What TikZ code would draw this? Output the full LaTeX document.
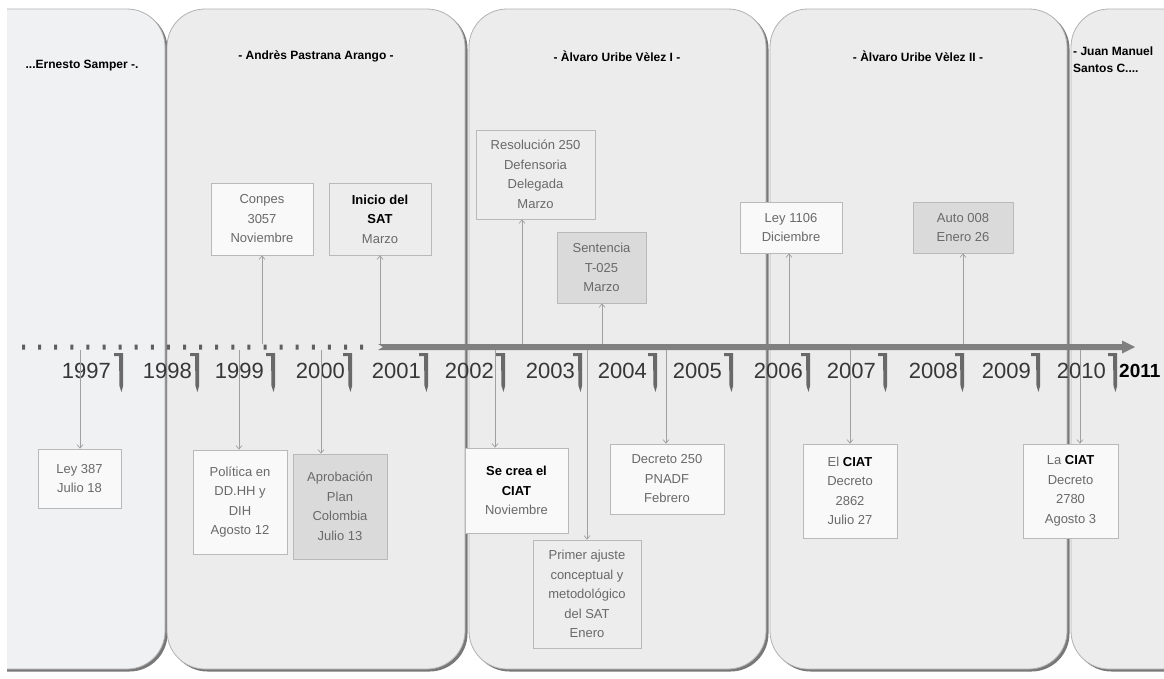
\documentclass[tikz,border=0pt]{standalone}
\usepackage{fontspec}
\setmainfont{Liberation Sans}
\usetikzlibrary{arrows.meta}
\definecolor{panelfill}{RGB}{236,236,237}
\definecolor{panelfillA}{RGB}{240,241,243}
\definecolor{shadowc}{RGB}{120,120,120}
\definecolor{panelline}{RGB}{178,178,178}
\definecolor{boxw}{RGB}{249,249,249}
\definecolor{boxl}{RGB}{237,237,237}
\definecolor{boxg}{RGB}{218,218,218}
\definecolor{boxline}{RGB}{185,185,185}
\definecolor{txtg}{RGB}{105,105,105}
\definecolor{axisc}{RGB}{128,128,128}
\definecolor{dotc}{RGB}{95,95,95}
\definecolor{yearc}{RGB}{55,55,55}
\definecolor{tickc}{RGB}{105,105,105}
\definecolor{connc}{RGB}{160,160,160}
\tikzset{
  panel/.style={draw=panelline, line width=0.8pt, rounded corners=38pt},
  pshadow/.style={fill=shadowc, rounded corners=38pt},
  hdr/.style={font=\bfseries\fontsize{12}{17}\selectfont, text=black, inner sep=0pt},
  evbox/.style={draw=boxline, line width=0.8pt, align=center, inner sep=0pt,
    font=\fontsize{13}{19.5}\selectfont, text=txtg},
  wbox/.style={evbox, fill=boxw},
  lbox/.style={evbox, fill=boxl},
  gbox/.style={evbox, fill=boxg},
  conn/.style={draw=connc, line width=0.7pt, -{Straight Barb[length=3.5pt,width=6pt]}},
  yr/.style={font=\fontsize{22}{22}\selectfont, text=yearc, anchor=east, inner sep=0pt},
}
\newcommand{\bk}[1]{{\color{black}\bfseries #1}}
\begin{document}
\begin{tikzpicture}[x=1pt,y=-1pt]
\useasboundingbox (0,0) rectangle (1164,678);
\clip (0,0) rectangle (1164,678);
\fill[white] (0,0) rectangle (1164,678);
% panels
\begin{scope}
  \clip (7,0) rectangle (1164,678);
  \fill[pshadow] (-57.5,11) rectangle (167.5,671.5);
  \filldraw[panel, fill=panelfillA] (-60,9) rectangle (165,669);
  \foreach \l/\r in {167/465,469/766,770/1067,1071/1320} {
    \fill[pshadow] ({\l+2.5},11) rectangle ({\r+2.5},671.5);
    \filldraw[panel, fill=panelfill] (\l,9) rectangle (\r,669);
  }
\end{scope}
% headers
\node[hdr] (h1) at (82,66) {...Ernesto Samper -.};
\node[hdr] (h2) at (316,56) {- Andrès Pastrana Arango -};
\node[hdr] (h3) at (617,56) {- Àlvaro Uribe Vèlez I -};
\node[hdr] (h4) at (918,56) {- Àlvaro Uribe Vèlez II -};
\node[hdr, align=left, anchor=north west] (h5) at (1073,47) {- Juan Manuel\\Santos C....};
% axis
\fill[dotc] \foreach \k in {0,...,21} {({22+16.1*\k},344.5) rectangle +(3,5)};
\fill[axisc] (378,344) -- (1122,344) -- (1122,340.5) -- (1135,347) -- (1122,353.5)
  -- (1122,350) -- (378,350) -- (383,347) -- cycle;
% ticks
\foreach \t in {123,199,275,352,428,505,582,657,733,810,887,964,1040,1117}
  \fill[tickc] ({\t-9},353) -- (\t,353) -- (\t,386) -- ({\t-1.5},392) -- ({\t-3.5},386)
    -- ({\t-4},356) -- ({\t-9},356) -- cycle;
% year labels
\foreach \xx/\yy in {111/1997,192/1998,264/1999,345/2000,421/2001,494/2002,575/2003,
  647/2004,722/2005,803/2006,876/2007,958/2008,1031/2009,1106/2010}
  \node[yr] (y\yy) at (\xx,371) {\yy};
\node[yr, font=\bfseries\fontsize{19}{19}\selectfont, text=black, anchor=west] (y2011) at (1119,371) {2011};
% boxes above
\node[wbox, minimum width=102pt, minimum height=72pt] (conpes) at (262,219) {Conpes\\3057\\Noviembre};
\node[lbox, minimum width=102pt, minimum height=72pt] (inicio) at (380,219) {\bk{Inicio del}\\\bk{SAT}\\Marzo};
\node[lbox, minimum width=119pt, minimum height=89pt] (resol) at (535.5,174.5) {Resolución 250\\Defensoria\\Delegada\\Marzo};
\node[gbox, minimum width=89pt, minimum height=71pt] (sent) at (601.5,267.5) {Sentencia\\T-025\\Marzo};
\node[wbox, minimum width=102pt, minimum height=51pt] (ley1106) at (791,227.5) {Ley 1106\\Diciembre};
\node[gbox, minimum width=100pt, minimum height=51pt] (auto) at (963,227.5) {Auto 008\\Enero 26};
% boxes below
\node[wbox, minimum width=83pt, minimum height=59pt] (ley387) at (79.5,478.5) {Ley 387\\Julio 18};
\node[wbox, minimum width=94pt, minimum height=104pt] (politica) at (240,502) {Política en\\DD.HH y\\DIH\\Agosto 12};
\node[gbox, minimum width=94pt, minimum height=105pt] (aprob) at (340,506.5) {Aprobación\\Plan\\Colombia\\Julio 13};
\node[wbox, minimum width=103pt, minimum height=85pt] (secrea) at (516.5,490.5) {\bk{Se crea el}\\\bk{CIAT}\\Noviembre};
\node[lbox, minimum width=108pt, minimum height=108pt] (primer) at (587,594) {Primer ajuste\\conceptual y\\metodológico\\del SAT\\Enero};
\node[wbox, minimum width=114pt, minimum height=70pt] (decreto) at (667,479) {Decreto 250\\PNADF\\Febrero};
\node[wbox, minimum width=94pt, minimum height=94pt] (elciat) at (850,491) {El \bk{CIAT}\\Decreto\\2862\\Julio 27};
\node[wbox, minimum width=95pt, minimum height=94pt] (laciat) at (1070.5,491) {La \bk{CIAT}\\Decreto\\2780\\Agosto 3};
% axis anchor points
\coordinate (u1) at (262,344);
\coordinate (u2) at (380,344);
\coordinate (u3) at (522,344);
\coordinate (u4) at (602,344);
\coordinate (u5) at (789,344);
\coordinate (u6) at (963,344);
\coordinate (d1) at (80,350);
\coordinate (d2) at (239,350);
\coordinate (d3) at (321,350);
\coordinate (d4) at (495,350);
\coordinate (d5) at (587,350);
\coordinate (d6) at (666,350);
\coordinate (d7) at (850,350);
\coordinate (d8) at (1080,350);
% connectors
\draw[conn] (u1) -- (u1 |- conpes.south);
\draw[conn] (u2) -- (u2 |- inicio.south);
\draw[conn] (u3) -- (u3 |- resol.south);
\draw[conn] (u4) -- (u4 |- sent.south);
\draw[conn] (u5) -- (u5 |- ley1106.south);
\draw[conn] (u6) -- (u6 |- auto.south);
\draw[conn] (d1) -- (d1 |- ley387.north);
\draw[conn] (d2) -- (d2 |- politica.north);
\draw[conn] (d3) -- (d3 |- aprob.north);
\draw[conn] (d4) -- (d4 |- secrea.north);
\draw[conn] (d5) -- (d5 |- primer.north);
\draw[conn] (d6) -- (d6 |- decreto.north);
\draw[conn] (d7) -- (d7 |- elciat.north);
\draw[conn] (d8) -- (d8 |- laciat.north);
\end{tikzpicture}
\end{document}
